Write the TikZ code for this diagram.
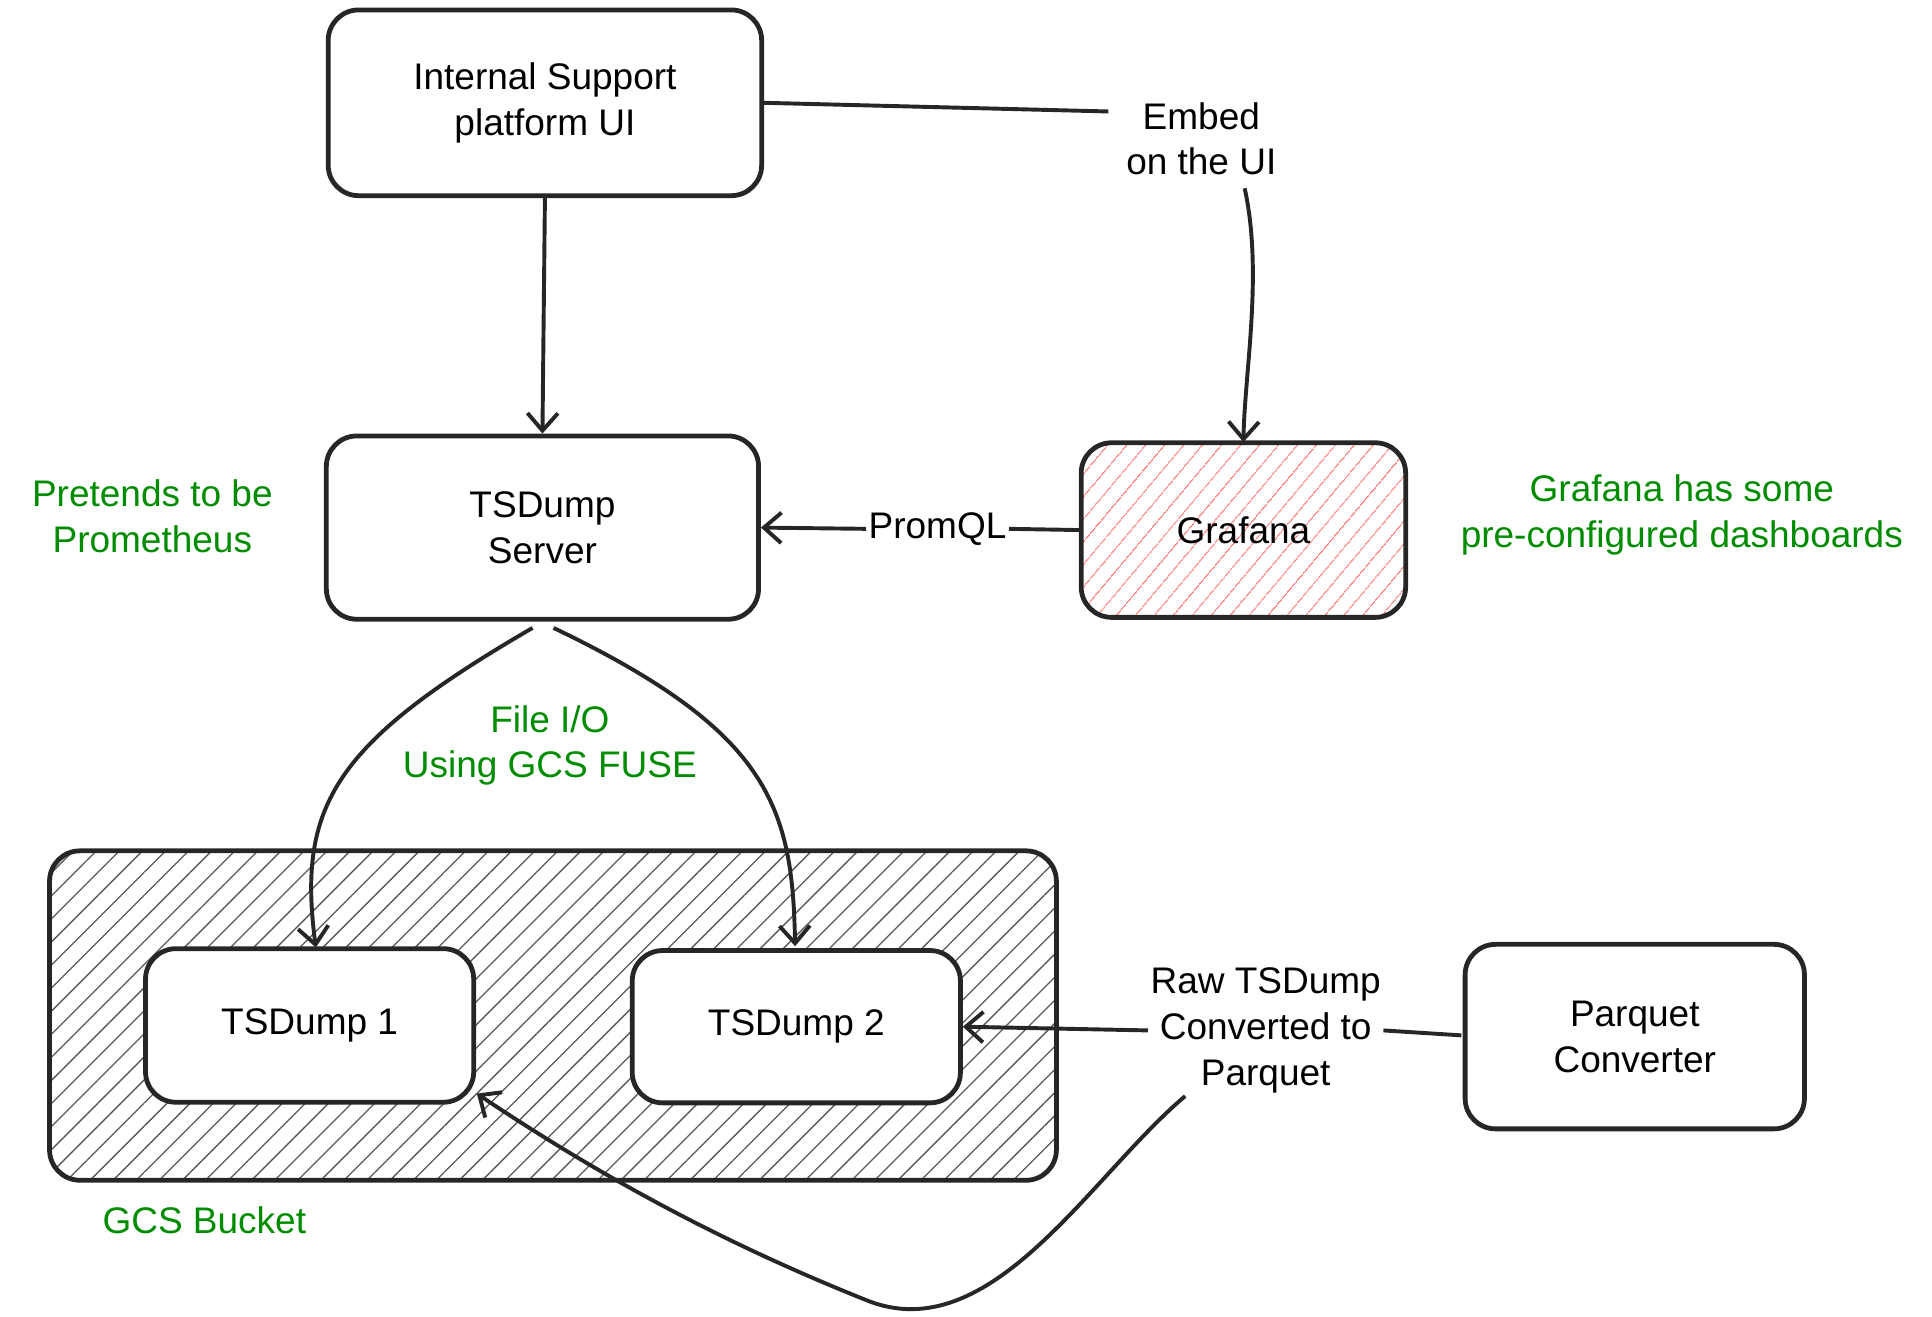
\documentclass[tikz,border=0pt]{standalone}
\usepackage{fontspec}
\setmainfont{Liberation Sans}
\usetikzlibrary{patterns.meta,arrows.meta}
\begin{document}
\begin{tikzpicture}[x=0.02cm,y=-0.02cm,
  box/.style={draw=black!85,line width=2.2pt,rounded corners=14pt,align=center,font=\fontsize{17}{21}\selectfont},
  txt/.style={align=center,font=\fontsize{17}{21}\selectfont},
  grn/.style={txt,text=green!55!black},
  con/.style={line width=1.8pt,draw=black!85},
  arr/.style={con,-{Straight Barb[length=8pt,width=14pt]}}]
\useasboundingbox (0,0) rectangle (1560,1063);
\draw[box,fill=white,pattern={Lines[angle=45,distance=7.5pt,line width=0.6pt]},pattern color=black!65] (40,687) rectangle (853,953);
\node[box,minimum width=350*0.02cm,minimum height=150*0.02cm] (ui) at (440,83) {Internal Support\\platform UI};
\node[box,minimum width=349*0.02cm,minimum height=148*0.02cm] (srv) at (438,426) {TSDump\\Server};
\node[box,minimum width=262*0.02cm,minimum height=141*0.02cm,pattern={Lines[angle=50,distance=6.5pt,line width=0.6pt]},pattern color=red!55] (gra) at (1004,428) {};
\node[txt] at (1004,428) {Grafana};
\node[box,fill=white,minimum width=265*0.02cm,minimum height=124*0.02cm] (t1) at (250,828) {TSDump 1};
\node[box,fill=white,minimum width=265*0.02cm,minimum height=123*0.02cm] (t2) at (643,829) {TSDump 2};
\node[box,minimum width=274*0.02cm,minimum height=149*0.02cm] (pq) at (1320,837) {Parquet\\Converter};
\node[grn] (l1) at (123,417) {Pretends to be\\Prometheus};
\node[grn] (l2) at (1358,416) {Grafana has some\\pre-configured dashboards};
\node[grn] (l3) at (444,602) {File I/O\\Using GCS FUSE};
\node[grn] (l4) at (165,985) {GCS Bucket};
\node[txt] (emb) at (970,112) {Embed\\on the UI};
\node[txt,inner sep=1pt] (pro) at (757,427) {PromQL};
\node[txt,inner sep=1pt] (raw) at (1022,832) {Raw TSDump\\Converted to\\Parquet};
\coordinate (c1) at (895,90);
\coordinate (c2) at (1005,152);
\draw[arr] (ui.south) -- (srv.north);
\draw[con] (ui.east) -- (c1);
\draw[arr] (c2) .. controls (1020,220) and (1005,300) .. (gra.north);
\draw[con] (gra.west) -- (pro.east);
\draw[arr] (pro.west) -- (srv.east);
\coordinate (s1) at (430,507); \coordinate (s2) at (447,507);
\draw[arr] (s1) .. controls (270,600) and (240,650) .. (255,765);
\draw[arr] (s2) .. controls (620,590) and (640,650) .. (642,764);
\coordinate (r1) at (1180,836);
\draw[con] (r1) -- (raw.east);
\draw[arr] (raw.west) -- (t2.east);
\coordinate (r2) at (957,885);
\draw[arr] (r2) .. controls (880,950) and (800,1090) .. (700,1050) .. controls (600,1010) and (500,960) .. (385,883);
\end{tikzpicture}
\end{document}
